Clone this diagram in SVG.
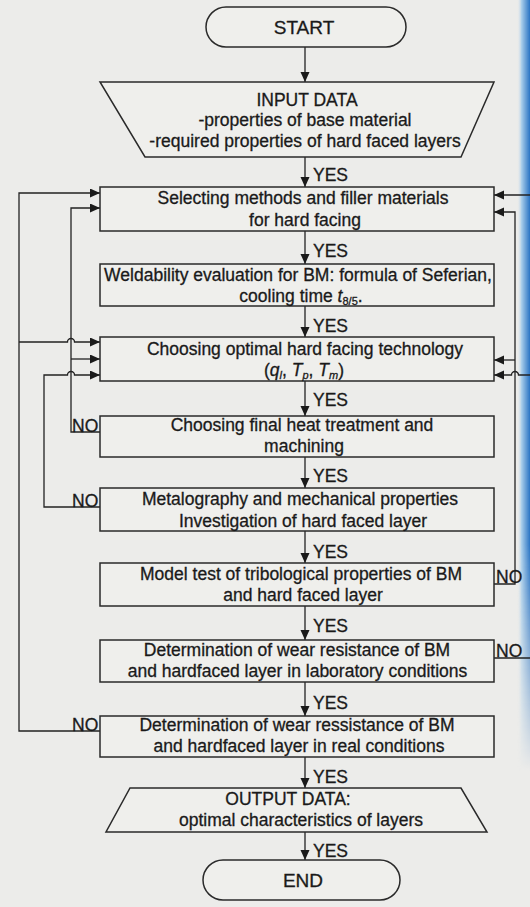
<svg xmlns="http://www.w3.org/2000/svg" width="530" height="907" viewBox="0 0 530 907">
<style>
  text { font-family: "Liberation Sans", Arial, sans-serif; font-size: 17.5px; fill: #1a1a1a; stroke: #1a1a1a; stroke-width: 0.3; text-anchor: middle; }
  .lbl { text-anchor: start; }
  .term { font-size: 19px; }
  .box { fill: #efefec; stroke: #2a2a2a; stroke-width: 1.5; }
  .con { fill: none; stroke: #222; stroke-width: 1.3; }
  .arr { marker-end: url(#ah); }
  .it { font-style: italic; }
  .sub { font-size: 11px; }
</style>
<defs>
  <marker id="ah" markerUnits="userSpaceOnUse" markerWidth="11" markerHeight="10" refX="10" refY="4.5" orient="auto">
    <path d="M0,0 L10,4.5 L0,9 z" fill="#1a1a1a"/>
  </marker>
  <linearGradient id="edge" x1="0" y1="0" x2="1" y2="0">
    <stop offset="0" stop-color="#ececea" stop-opacity="0"/>
    <stop offset="0.35" stop-color="#a8cdea"/>
    <stop offset="1" stop-color="#2a74c4"/>
  </linearGradient>
  <linearGradient id="fade" x1="0" y1="0" x2="0" y2="1">
    <stop offset="0" stop-color="#fff"/>
    <stop offset="0.6" stop-color="#fff"/>
    <stop offset="0.85" stop-color="#000"/>
  </linearGradient>
  <mask id="m"><rect x="0" y="0" width="530" height="907" fill="url(#fade)"/></mask>
</defs>
<rect x="0" y="0" width="530" height="907" fill="#ececea"/>
<rect x="517" y="0" width="13" height="907" fill="url(#edge)" mask="url(#m)"/>

<g id="connectors">
  <path class="con arr" d="M305 46 V82"/>
  <path class="con arr" d="M305 157 V187"/>
  <path class="con arr" d="M305 231 V264"/>
  <path class="con arr" d="M305 306 V337"/>
  <path class="con arr" d="M305 381 V416"/>
  <path class="con arr" d="M305 457 V488"/>
  <path class="con arr" d="M305 531 V563"/>
  <path class="con arr" d="M305 606 V640"/>
  <path class="con arr" d="M305 682 V716"/>
  <path class="con arr" d="M305 757 V788"/>
  <path class="con arr" d="M305 832 V860"/>
  <!-- left loops -->
  <path class="con arr" d="M100 731 H19 V193 H100"/>
  <path class="con arr" d="M19 342 H67.5 A3.5 3.5 0 0 1 74.5 342 H100"/>
  <path class="con arr" d="M100 432 H71 V208 H100"/>
  <path class="con arr" d="M71 359 H100"/>
  <path class="con arr" d="M100 507 H44 V375 H67.5 A3.5 3.5 0 0 1 74.5 375 H100"/>
  <!-- right loops -->
  <path class="con arr" d="M494 584 H515 V212 H494"/>
  <path class="con arr" d="M515 360 H494"/>
  <path class="con" d="M494 658 H530"/>
  <path class="con arr" d="M530 195 H494"/>
  <path class="con arr" d="M530 375 H518.5 A3.5 3.5 0 0 0 511.5 375 H494"/>
  <!-- labels -->
  <text class="lbl" x="313" y="181">YES</text>
  <text class="lbl" x="313" y="257">YES</text>
  <text class="lbl" x="313" y="332">YES</text>
  <text class="lbl" x="313" y="406">YES</text>
  <text class="lbl" x="313" y="482">YES</text>
  <text class="lbl" x="313" y="558">YES</text>
  <text class="lbl" x="313" y="632">YES</text>
  <text class="lbl" x="313" y="709">YES</text>
  <text class="lbl" x="313" y="783">YES</text>
  <text class="lbl" x="313" y="857">YES</text>
  <text class="lbl" x="72" y="432">NO</text>
  <text class="lbl" x="72" y="507">NO</text>
  <text class="lbl" x="72" y="731">NO</text>
  <text class="lbl" x="496" y="583">NO</text>
  <text class="lbl" x="496" y="657">NO</text>
</g>

<g id="start">
  <rect class="box" x="206" y="7" width="200" height="40" rx="20"/>
  <text class="term" x="304" y="34">START</text>
</g>
<g id="input">
  <polygon class="box" points="100,82 494,82 461,157 145,157"/>
  <text x="307" y="106">INPUT DATA</text>
  <text x="305" y="126">-properties of base material</text>
  <text x="305" y="147">-required properties of hard faced layers</text>
</g>
<g id="select">
  <rect class="box" x="100" y="187" width="394" height="44"/>
  <text x="303" y="204">Selecting methods and filler materials</text>
  <text x="305" y="226">for hard facing</text>
</g>
<g id="weld">
  <rect class="box" x="100" y="264" width="394" height="42"/>
  <text x="298" y="281">Weldability evaluation for BM: formula of Seferian,</text>
  <text x="301" y="302">cooling time <tspan class="it">t</tspan><tspan class="sub" dy="3">8/5</tspan><tspan dy="-3">.</tspan></text>
</g>
<g id="tech">
  <rect class="box" x="100" y="337" width="394" height="44"/>
  <text x="305" y="355">Choosing optimal hard facing technology</text>
  <text x="304" y="376">(<tspan class="it">q</tspan><tspan class="sub it" dy="3">l</tspan><tspan dy="-3">, </tspan><tspan class="it">T</tspan><tspan class="sub it" dy="3">p</tspan><tspan dy="-3">, </tspan><tspan class="it">T</tspan><tspan class="sub it" dy="3">m</tspan><tspan dy="-3">)</tspan></text>
</g>
<g id="heat">
  <rect class="box" x="100" y="416" width="394" height="41"/>
  <text x="302" y="431">Choosing final heat treatment and</text>
  <text x="304" y="452">machining</text>
</g>
<g id="metal">
  <rect class="box" x="100" y="488" width="394" height="43"/>
  <text x="300" y="505">Metalography and mechanical properties</text>
  <text x="303" y="527">Investigation of hard faced layer</text>
</g>
<g id="model">
  <rect class="box" x="100" y="563" width="394" height="43"/>
  <text x="301" y="580">Model test of tribological properties of BM</text>
  <text x="303" y="601">and hard faced layer</text>
</g>
<g id="lab">
  <rect class="box" x="100" y="640" width="394" height="42"/>
  <text x="297" y="656">Determination of wear resistance of BM</text>
  <text x="297.5" y="677">and hardfaced layer in laboratory conditions</text>
</g>
<g id="real">
  <rect class="box" x="100" y="716" width="394" height="41"/>
  <text x="297" y="731">Determination of wear ressistance of BM</text>
  <text x="299" y="752">and hardfaced layer in real conditions</text>
</g>
<g id="output">
  <polygon class="box" points="130,788 461,788 487,832 106,832"/>
  <text x="288" y="805">OUTPUT DATA:</text>
  <text x="301" y="826">optimal characteristics of layers</text>
</g>
<g id="end">
  <rect class="box" x="203" y="860" width="197" height="40" rx="20"/>
  <text class="term" x="303" y="887">END</text>
</g>
</svg>
